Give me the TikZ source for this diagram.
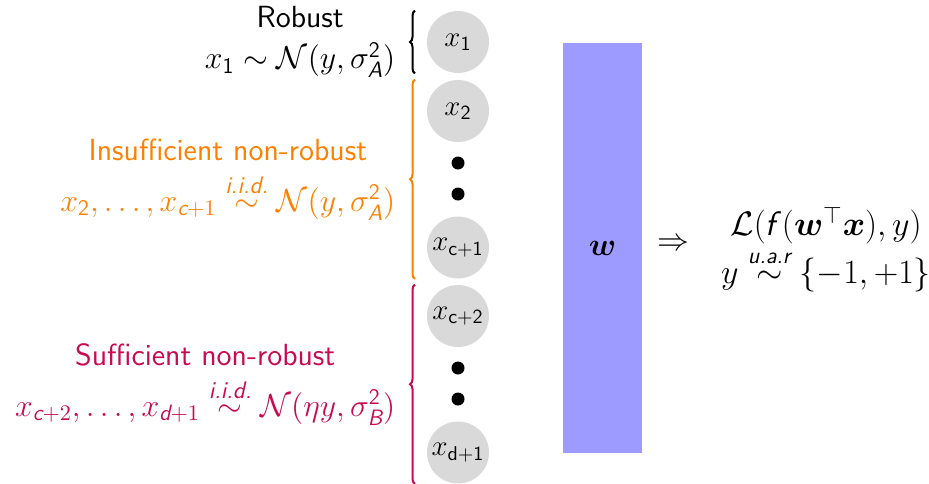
\RequirePackage{fix-cm}
\documentclass[tikz,border=0pt]{standalone}
\usepackage{amsmath,amssymb}
\usepackage{xcolor}
\usepackage{tikz}
\usetikzlibrary{positioning,decorations.pathreplacing}
\definecolor{insuforange}{RGB}{255,128,0}
\definecolor{sufcrimson}{RGB}{200,10,80}
\definecolor{weightblue}{RGB}{157,155,255}
\newcommand{\sfit}[1]{\text{\sffamily\itshape #1}}
\newcommand{\sfup}[1]{\text{\sffamily\upshape #1}}
\newcommand{\oversf}[2]{\text{\fontsize{#1}{#1}\selectfont\sffamily\itshape #2}}
\newcommand{\grouptitle}[1]{{\fontsize{15.3}{18}\selectfont #1}}

\begin{document}
\begin{tikzpicture}[
  x=0.5pt,y=-0.5pt,
  font=\sffamily\fontsize{15.9}{19.5}\selectfont,
  feat/.style={circle,fill=black!15,minimum size=31pt,inner sep=0pt,
               font=\fontsize{14.4}{17}\selectfont},
  gapdot/.style={circle,fill=black,minimum size=6.5pt,inner sep=0pt},
  grp/.style={decorate,decoration={brace,amplitude=2.5pt},line width=1pt},
  desc/.style={midway,left=6pt,align=center}
]
  \useasboundingbox (0,0) rectangle (929,483);
  % input features
  \foreach \nm/\yy/\lab in {x1/42/x_{\sfup{1}}, x2/111/x_{\sfup{2}},
      xc/247.5/x_{\sfup{c+1}}, xcc/316/x_{\sfup{c+2}}, xd/452.5/x_{\sfup{d+1}}}
    \node[feat] (\nm) at (458,\yy) {$\lab$};
  \foreach \nm/\yy in {da/163, db/194, dc/368, dd/399}
    \node[gapdot] (\nm) at (458,\yy) {};

  % groups
  \coordinate (bx) at (415,0);
  \draw[grp] (x1.south -| bx) -- (x1.north -| bx)
    node[desc] (robust) {\grouptitle{Robust}\\[1pt]
      $x_{\sfup{1}} \sim \mathcal{N}(y,\sigma^{\sfup{2}}_{\sfit{A}})$};
  \draw[grp,insuforange] (xc.south -| bx) -- (x2.north -| bx)
    node[desc] (insuf) {\grouptitle{Insufficient non-robust}\\[6pt]
      $x_{\sfup{2}},\ldots,x_{\sfit{c}+1} \overset{\oversf{12}{i.i.d.}}{\sim}
       \mathcal{N}(y,\sigma^{\sfup{2}}_{\sfit{A}})$};
  \draw[grp,sufcrimson] (xd.south -| bx) -- (xcc.north -| bx)
    node[desc] (suf) {\grouptitle{Sufficient non-robust}\\[6pt]
      $x_{\sfit{c}+2},\ldots,x_{\sfit{d}+1} \overset{\oversf{12}{i.i.d.}}{\sim}
       \mathcal{N}(\eta y,\sigma^{\sfup{2}}_{\sfit{B}})$};

  % weights and loss
  \node[fill=weightblue,minimum width=39.5pt,minimum height=205pt,inner sep=0pt]
    (w) at (602.5,248) {$\boldsymbol{w}$};
  \node (implies) at (673,245) {$\Rightarrow$};
  \node[align=center,font=\fontsize{17}{20}\selectfont] (loss) at (826,249) {%
    $\mathcal{L}(\sfit{f\/}(\boldsymbol{w}^{\top}\boldsymbol{x}),y)$\\[2pt]
    $y \overset{\oversf{11.5}{u.a.r}}{\sim} \{-1,+1\}$};
\end{tikzpicture}
\end{document}
